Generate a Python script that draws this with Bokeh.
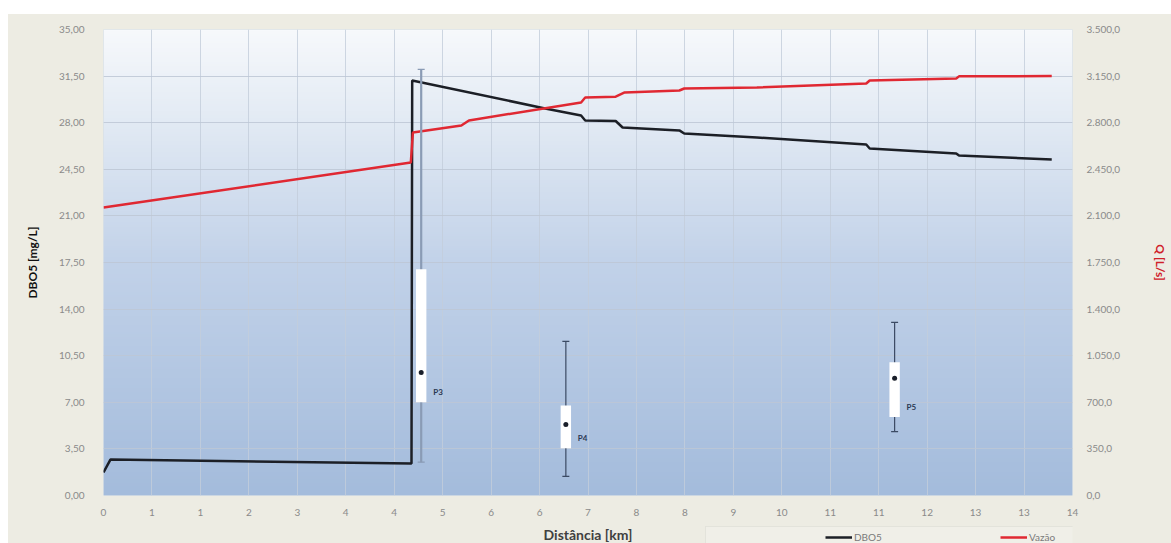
import numpy as np
from bokeh.plotting import figure
from bokeh.layouts import column, row
from bokeh.models import (Range1d, LinearAxis, FixedTicker, Legend, LegendItem,
                          ColumnDataSource, BoxAnnotation, Label, Spacer)
from bokeh.embed import file_html
from bokeh.resources import INLINE
from bokeh.core.properties import value

# ---------------- data ----------------
dbo_x = [0.00, 0.10, 4.45, 4.46, 6.38, 6.90, 6.96, 7.40, 7.50, 8.32, 8.39, 9.44,
         11.02, 11.07, 12.32, 12.36, 13.70]
dbo_y = [1.73, 2.70, 2.40, 31.17, 29.07, 28.54, 28.17, 28.13, 27.64, 27.42, 27.19,
         26.89, 26.36, 26.06, 25.69, 25.54, 25.24]

q_x = [0.00, 4.44, 4.47, 5.17, 5.28, 6.90, 6.96, 7.40, 7.53, 8.32, 8.39, 9.44,
       11.02, 11.07, 12.32, 12.36, 13.70]
q_y = [2163, 2501, 2726, 2779, 2817, 2952, 2989, 2995, 3027, 3042, 3057, 3064,
       3094, 3117, 3132, 3148, 3150]

box_names = ["P3", "P4", "P5"]
box_x = [4.59, 6.68, 11.43]
box_low = [2.50, 1.43, 4.80]
box_q1 = [7.00, 3.55, 5.90]
box_med = [9.24, 5.33, 8.80]
box_q3 = [17.00, 6.76, 10.00]
box_high = [32.00, 11.57, 13.00]

x_ticks = [0.0, 0.7, 1.4, 2.1, 2.8, 3.5, 4.2, 4.9, 5.6, 6.3, 7.0, 7.7, 8.4, 9.1,
           9.8, 10.5, 11.2, 11.9, 12.6, 13.3, 14.0]
x_tick_labels = ["0", "1", "1", "2", "3", "4", "4", "5", "6", "6", "7", "8", "8",
                 "9", "10", "11", "11", "12", "13", "13", "14"]
y_ticks = [0, 3.5, 7, 10.5, 14, 17.5, 21, 24.5, 28, 31.5, 35]
y_tick_labels = ["0,00", "3,50", "7,00", "10,50", "14,00", "17,50", "21,00",
                 "24,50", "28,00", "31,50", "35,00"]
q_ticks = [0, 350, 700, 1050, 1400, 1750, 2100, 2450, 2800, 3150, 3500]
q_tick_labels = ["0,0", "350,0", "700,0", "1.050,0", "1.400,0", "1.750,0",
                 "2.100,0", "2.450,0", "2.800,0", "3.150,0", "3.500,0"]

x_title = "Distância [km]"
y_title = "DBO5 [mg/L]"
q_title = "Q [L/s]"
series_names = ["DBO5", "Vazão"]

# ---------------- styling ----------------
FONT = "Lato"
BG = "#edece3"
DBO_COLOR = "#1c1f26"
Q_COLOR = "#e02832"
whisker_colors = ["#8a9bb5", "#3b4a63", "#3b4a63"]
whisker_widths = [2.2, 1.2, 1.2]

p = figure(width=1163, height=504, x_range=Range1d(0, 14), y_range=Range1d(0, 35),
           output_backend="svg", toolbar_location=None,
           min_border_left=95, min_border_right=94, min_border_top=15,
           min_border_bottom=23)
p.extra_y_ranges = {"q": Range1d(0, 3500)}
p.border_fill_color = BG
p.background_fill_color = "#c8d6e8"
p.outline_line_color = None

# gradient background of the plot area
n = 200
t = np.linspace(0, 1, n)
stops_t = [0.0, 0.5, 0.8, 1.0]
r = np.interp(t, stops_t, [164, 194, 226, 247])
g = np.interp(t, stops_t, [188, 210, 234, 249])
b = np.interp(t, stops_t, [220, 233, 244, 252])
img = np.empty((n, 1), dtype=np.uint32)
view = img.view(dtype=np.uint8).reshape((n, 1, 4))
view[:, 0, 0] = r.astype(np.uint8)
view[:, 0, 1] = g.astype(np.uint8)
view[:, 0, 2] = b.astype(np.uint8)
view[:, 0, 3] = 255
p.image_rgba(image=[img], x=0, y=0, dw=14, dh=35, level="image")

# grids
p.xgrid.ticker = FixedTicker(ticks=x_ticks)
p.ygrid.ticker = FixedTicker(ticks=y_ticks)
p.xgrid.grid_line_color = "#c3cddb"
p.ygrid.grid_line_color = "#bdc7d5"
p.xgrid.grid_line_alpha = 0.8
p.ygrid.grid_line_alpha = 0.85

# axes
xa = p.xaxis[0]
xa.ticker = FixedTicker(ticks=x_ticks)
xa.major_label_overrides = {tk: lb for tk, lb in zip(x_ticks, x_tick_labels)}
ya = p.yaxis[0]
ya.ticker = FixedTicker(ticks=y_ticks)
ya.major_label_overrides = {tk: lb for tk, lb in zip(y_ticks, y_tick_labels)}
ya.axis_label = y_title

qa = LinearAxis(y_range_name="q", axis_label=q_title)
qa.ticker = FixedTicker(ticks=q_ticks)
qa.major_label_overrides = {tk: lb for tk, lb in zip(q_ticks, q_tick_labels)}
p.add_layout(qa, "right")

for ax in (xa, ya, qa):
    ax.axis_line_color = None
    ax.major_tick_line_color = None
    ax.minor_tick_line_color = None
    ax.major_label_text_font = FONT
    ax.major_label_text_font_size = "10px"
    ax.major_label_text_color = "#8a8a8a"
    ax.axis_label_text_font = FONT
    ax.axis_label_text_font_style = "bold"

xa.major_label_standoff = 7
ya.major_label_standoff = 13
ya.axis_label_standoff = 16
ya.axis_label_text_font_size = "12px"
ya.axis_label_text_color = "#111111"
qa.major_label_standoff = 8
qa.axis_label_standoff = 30
qa.axis_label_text_font_size = "12px"
qa.axis_label_text_color = "#d0202a"

# lines
p.line(dbo_x, dbo_y, line_color=DBO_COLOR, line_width=2.5)
p.line(q_x, q_y, y_range_name="q", line_color=Q_COLOR, line_width=2.5)

# box plots
src = ColumnDataSource(dict(x=box_x, low=box_low, q1=box_q1, med=box_med,
                            q3=box_q3, high=box_high, name=box_names,
                            wc=whisker_colors, ww=whisker_widths))
p.segment(x0="x", y0="low", x1="x", y1="high", source=src, line_color="wc",
          line_width="ww")
p.scatter(x="x", y="low", source=src, marker="dash", size=7, line_color="wc",
          line_width=1.2)
p.scatter(x="x", y="high", source=src, marker="dash", size=7, line_color="wc",
          line_width=1.2)
p.vbar(x="x", bottom="q1", top="q3", width=0.15, source=src, fill_color="white",
       line_color=None)
p.scatter(x="x", y="med", source=src, marker="circle", size=5,
          fill_color="#1a1f2a", line_color=None)
p.text(x="x", y="q1", text="name", source=src, x_offset=12, y_offset=-10,
       text_font=value(FONT), text_font_size="8px", text_font_style="bold",
       text_color="#2b3852", text_baseline="middle", text_align="left")

# ---------------- bottom strip: x-axis title + legend ----------------
p2 = figure(width=1163, height=25, x_range=p.x_range, y_range=Range1d(0, 25),
            output_backend="svg", toolbar_location=None, min_border=0,
            x_axis_type=None, y_axis_type=None)
p2.grid.visible = False
p2.outline_line_color = None
p2.background_fill_color = BG
p2.border_fill_color = BG

p2.add_layout(BoxAnnotation(left=602, right=1200, bottom=-5, top=17,
                            left_units="screen", right_units="screen",
                            bottom_units="screen", top_units="screen",
                            fill_color="#f0efe8", fill_alpha=1.0,
                            line_color="#c9c9c2", line_width=1))
p2.add_layout(Label(x=7, y=9, y_units="screen", text=x_title, text_align="center",
                    text_baseline="middle", text_font=FONT, text_font_size="14px",
                    text_font_style="bold", text_color="#404040"))

# legend proxies (a single NaN point each: nothing is drawn in the strip)
proxy = ColumnDataSource(dict(x=[np.nan], y=[np.nan]))
l1 = p2.line("x", "y", source=proxy, line_color=DBO_COLOR, line_width=2.5)
l2 = p2.line("x", "y", source=proxy, line_color=Q_COLOR, line_width=2.5)
legend = Legend(items=[LegendItem(label=series_names[0], renderers=[l1]),
                       LegendItem(label=series_names[1], renderers=[l2])],
                orientation="horizontal", location=(722, 0))
legend.label_text_font = FONT
legend.label_text_font_size = "10px"
legend.label_text_color = "#7a7a7a"
legend.glyph_width = 27
legend.glyph_height = 10
legend.label_standoff = 2
legend.label_width = 146
legend.spacing = 0
legend.padding = 3
legend.margin = 0
legend.border_line_color = None
legend.background_fill_alpha = 0
p2.add_layout(legend, "center")

inner = column(p, p2, spacing=0, styles={"background-color": BG})
layout = column(Spacer(height=14),
                row(Spacer(width=8), inner, spacing=0),
                spacing=0)
open("out.html", "w").write(file_html(layout, INLINE))
